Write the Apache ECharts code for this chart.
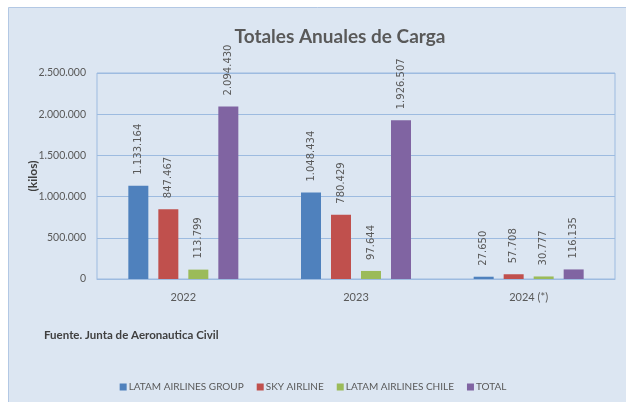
<!DOCTYPE html>
<html>
<head>
<meta charset="utf-8">
<script src="https://cdn.jsdelivr.net/npm/echarts@6/dist/echarts.min.js"></script>
<style>
  html, body { margin: 0; padding: 0; background: #ffffff; }
  #chart { width: 626px; height: 402px; }
</style>
</head>
<body>
<div id="chart"></div>
<script>
const years = ["2022", "2023", "2024 (*)"]
const latamGroup = [1133164, 1048434, 27650]
const skyAirline = [847467, 780429, 57708]
const latamChile = [113799, 97644, 30777]
const total = [2094430, 1926507, 116135]

const seriesNames = ["LATAM AIRLINES GROUP", "SKY AIRLINE", "LATAM AIRLINES CHILE", "TOTAL"]
const seriesData = [latamGroup, skyAirline, latamChile, total]
const colors = ["#4f81bd", "#c0504d", "#9bbb59", "#8064a2"]

const textColor = "#595959"
const lineColor = "#9dbbe0"
const narrow = "Lato, 'Liberation Sans', sans-serif"

// thousands with dots
function fmt(v) {
  return String(Math.round(v)).replace(/\B(?=(\d{3})+(?!\d))/g, ".")
}

const chart = echarts.init(document.getElementById("chart"))

chart.setOption({
  animation: false,
  color: colors,
  graphic: [
    {
      type: "rect",
      z: -100,
      shape: { x: 8.5, y: 7.5, width: 700, height: 500 },
      style: { fill: "#dce6f2", stroke: "#b3c8e4", lineWidth: 1 }
    },
    {
      type: "text",
      left: 44,
      top: 329,
      style: {
        text: "Fuente. Junta de Aeronautica Civil",
        fill: "#404040",
        font: "bold 11.5px " + narrow
      }
    }
  ],
  title: {
    text: "Totales Anuales de Carga",
    left: 335,
    textAlign: "center",
    top: 22,
    textStyle: { fontFamily: narrow, fontSize: 19, fontWeight: "bold", color: textColor }
  },
  legend: {
    top: 377,
    left: "center",
    itemWidth: 7,
    itemHeight: 7,
    itemGap: 13,
    icon: "rect",
    textStyle: { fontFamily: narrow, fontSize: 10, color: textColor, padding: [0, 0, 0, -3] },
    data: seriesNames
  },
  grid: {
    left: 97,
    right: 11,
    top: 73,
    bottom: 123,
    outerBoundsMode: "none",
    show: true,
    borderColor: lineColor,
    borderWidth: 1,
    backgroundColor: "transparent"
  },
  xAxis: {
    type: "category",
    data: years,
    axisLine: { lineStyle: { color: lineColor } },
    axisTick: { show: false },
    axisLabel: { color: textColor, fontFamily: narrow, fontSize: 11, margin: 13 }
  },
  yAxis: {
    type: "value",
    min: 0,
    max: 2500000,
    interval: 500000,
    name: "(kilos)",
    nameLocation: "middle",
    nameGap: 58,
    nameMoveOverlap: false,
    nameTextStyle: { fontFamily: narrow, fontWeight: "bold", fontSize: 12, color: "#404040" },
    axisLine: { show: false },
    axisTick: { show: false },
    splitLine: { lineStyle: { color: lineColor } },
    axisLabel: { color: textColor, fontFamily: narrow, fontSize: 10.5, margin: 11, formatter: fmt }
  },
  series: seriesNames.map((name, i) => ({
    type: "bar",
    name: name,
    data: seriesData[i],
    barWidth: 20,
    barGap: "50%",
    label: {
      show: true,
      position: "top",
      rotate: 90,
      align: "left",
      verticalAlign: "middle",
      distance: 11,
      color: textColor,
      fontFamily: "'DejaVu Sans', sans-serif",
      fontSize: 10,
      formatter: p => fmt(p.value)
    }
  }))
})
</script>
</body>
</html>
